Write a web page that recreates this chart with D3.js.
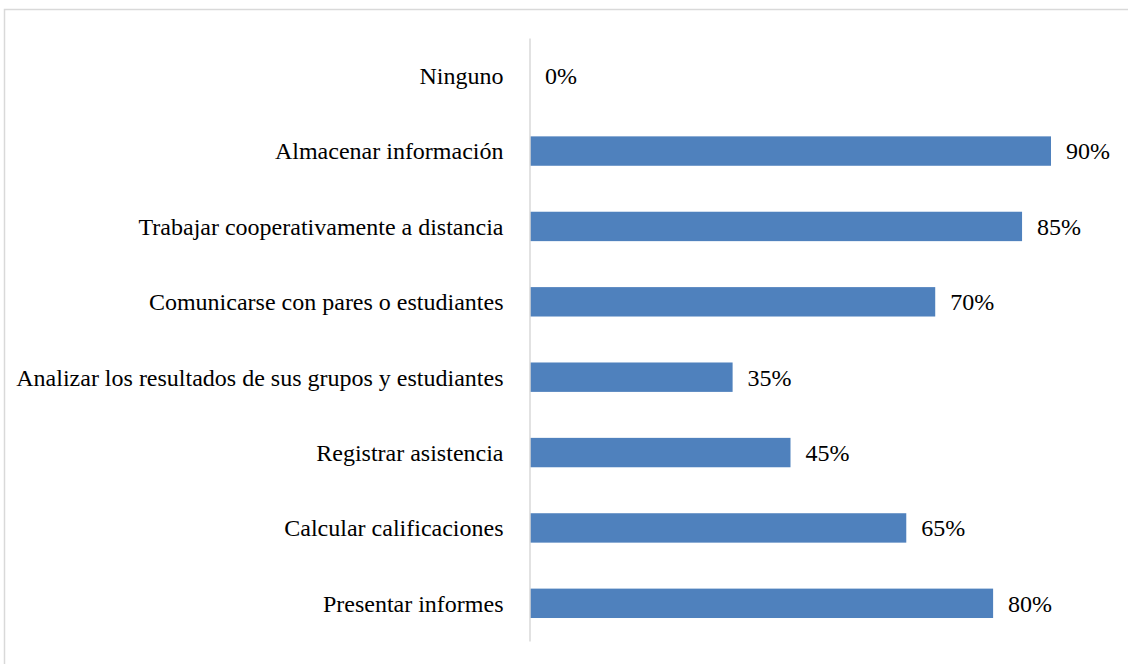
<!DOCTYPE html>
<html><head><meta charset="utf-8">
<script src="https://cdn.jsdelivr.net/npm/d3@7"></script>
<style>html,body{margin:0;padding:0;background:#fff;}svg{display:block;}</style>
</head><body>
<script>
const categories = ["Ninguno","Almacenar información","Trabajar cooperativamente a distancia","Comunicarse con pares o estudiantes","Analizar los resultados de sus grupos y estudiantes","Registrar asistencia","Calcular calificaciones","Presentar informes"];
const values = [0,90,85,70,35,45,65,80];

const W = 1128, H = 664;
const FONT = "'Liberation Serif','Times New Roman',serif";
const FS = 24;
const svg = d3.select("body").append("svg").attr("width", W).attr("height", H);
svg.append("rect").attr("x",4.5).attr("y",9.5).attr("width",W).attr("height",H)
  .attr("fill","#fff").attr("stroke","#d9d9d9").attr("stroke-width",1.5);

const x0 = 530;
const x = d3.scaleLinear().domain([0,90]).range([x0,1051]);
const y = d3.scaleBand().domain(categories).range([38,641]).paddingInner(0.61).paddingOuter(0.305);

svg.selectAll("rect.bar").data(values).enter().append("rect").attr("class","bar")
  .attr("x", x(0)).attr("y",(d,i)=>y(categories[i]))
  .attr("width", d=>x(d)-x(0)).attr("height", y.bandwidth())
  .attr("fill","#4f81bd");

const yAxis = d3.axisLeft(y).tickSize(0).tickPadding(26);
const g = svg.append("g").attr("transform",`translate(${x0-0.5},0)`).call(yAxis);
g.attr("font-family", FONT).attr("font-size", FS);
g.select(".domain").attr("stroke","#d9d9d9").attr("stroke-width",1.5);
g.selectAll("text").attr("fill","#000").attr("dy","0.35em");

svg.selectAll("text.val").data(values).enter().append("text").attr("class","val")
  .attr("x", d=>x(d)+15).attr("y",(d,i)=>y(categories[i])+y.bandwidth()/2)
  .attr("dy","0.35em")
  .attr("font-family", FONT).attr("font-size", FS).attr("fill","#000")
  .text(d=>d+"%");
</script>
</body></html>
